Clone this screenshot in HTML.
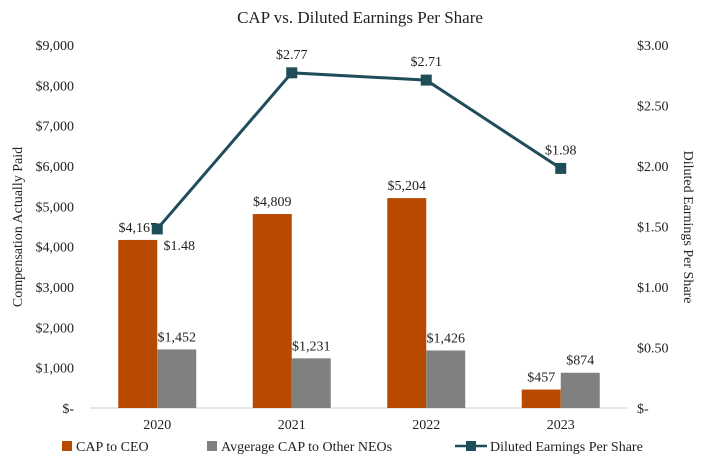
<!DOCTYPE html>
<html><head><meta charset="utf-8"><style>
body{margin:0;background:#fff;}
svg{display:block;}
svg text{font-family:"Liberation Serif",serif;}
</style></head><body>
<svg id="chart" width="707" height="463">
<text x="360" y="23" text-anchor="middle" font-size="17" fill="#222">CAP vs. Diluted Earnings Per Share</text>
<g id="left-ticks"></g>
<g id="right-ticks"></g>
<g id="bars"></g>
<g id="line"></g>
<g id="xlabels"></g>
<text transform="translate(22,227) rotate(-90)" text-anchor="middle" font-size="14" fill="#222">Compensation Actually Paid</text>
<text transform="translate(684,227) rotate(90)" text-anchor="middle" font-size="14" fill="#222">Diluted Earnings Per Share</text>
<g>
<rect x="62" y="441" width="10" height="10" fill="#b84a00"/>
<text x="76" y="451" font-size="14" fill="#222">CAP to CEO</text>
<rect x="207" y="441" width="10" height="10" fill="#808080"/>
<text x="221" y="451" font-size="14" fill="#222">Avgerage CAP to Other NEOs</text>
<line x1="455" y1="446" x2="487" y2="446" stroke="#1f4e5a" stroke-width="2.5"/>
<rect x="466" y="441" width="10" height="10" fill="#1f4e5a"/>
<text x="490" y="451" font-size="14" fill="#222">Diluted Earnings Per Share</text>
</g>
</svg>
<script>
const categories=["2020","2021","2022","2023"];
const ceoValues=[4167,4809,5204,457];
const neoValues=[1452,1231,1426,874];
const epsValues=[1.48,2.77,2.71,1.98];
const leftTicks=[0,1000,2000,3000,4000,5000,6000,7000,8000,9000];
const rightTicks=[0,0.5,1,1.5,2,2.5,3];
const NS="http://www.w3.org/2000/svg";
const x0=90,x1=628,yTop=45,yBot=408;
const yL=v=>yBot-(v/9000)*(yBot-yTop);
const yR=v=>yBot-(v/3)*(yBot-yTop);
const bw=(x1-x0)/categories.length;
const xc=i=>x0+bw*(i+0.5);
function el(tag,attrs,parent,text){const e=document.createElementNS(NS,tag);for(const k in attrs)e.setAttribute(k,attrs[k]);if(text!==undefined)e.textContent=text;parent.appendChild(e);return e;}
const fmt=v=>v===0?"$-":"$"+v.toLocaleString("en-US");
const gl=document.getElementById("left-ticks"),gr=document.getElementById("right-ticks");
leftTicks.forEach(v=>{const t=el("text",{x:74,y:yL(v)+5,"text-anchor":"end","font-size":14,fill:"#222"},gl,fmt(v));

});
rightTicks.forEach(v=>{const t=el("text",{x:637,y:yR(v)+5,"font-size":14,fill:"#222"},gr,v===0?"$-":"$"+v.toFixed(2));

});
const ax=el("line",{x1:x0,y1:yBot,x2:x1,y2:yBot,stroke:"#d0d0d0","stroke-width":1},gl);


const gb=document.getElementById("bars"),gx=document.getElementById("xlabels");
const w=39;
categories.forEach((c,i)=>{
const cx=xc(i);
const b1=el("rect",{x:cx-w,y:yL(ceoValues[i]),width:w,height:yBot-yL(ceoValues[i]),fill:"#b84a00"},gb);


const b2=el("rect",{x:cx,y:yL(neoValues[i]),width:w,height:yBot-yL(neoValues[i]),fill:"#808080"},gb);


const l1=el("text",{x:cx-w/2,y:yL(ceoValues[i])-8,"text-anchor":"middle","font-size":14,fill:"#222"},gb,fmt(ceoValues[i]));


const l2=el("text",{x:cx+w/2,y:yL(neoValues[i])-8,"text-anchor":"middle","font-size":14,fill:"#222"},gb,fmt(neoValues[i]));


const xl=el("text",{x:cx,y:429,"text-anchor":"middle","font-size":14,fill:"#222"},gx,c);


});
const gline=document.getElementById("line");
const pts=epsValues.map((v,i)=>xc(i)+","+yR(v)).join(" ");
const pl=el("polyline",{points:pts,fill:"none",stroke:"#1f4e5a","stroke-width":3},gline);


epsValues.forEach((v,i)=>{
const m=el("rect",{x:xc(i)-5.5,y:yR(v)-5.5,width:11,height:11,fill:"#1f4e5a"},gline);


const first=i===0;
const t=el("text",{x:first?xc(i)+22:xc(i),y:first?yR(v)+21:yR(v)-14,"text-anchor":"middle","font-size":14,fill:"#222"},gline,"$"+v.toFixed(2));


});
</script>
</body></html>
